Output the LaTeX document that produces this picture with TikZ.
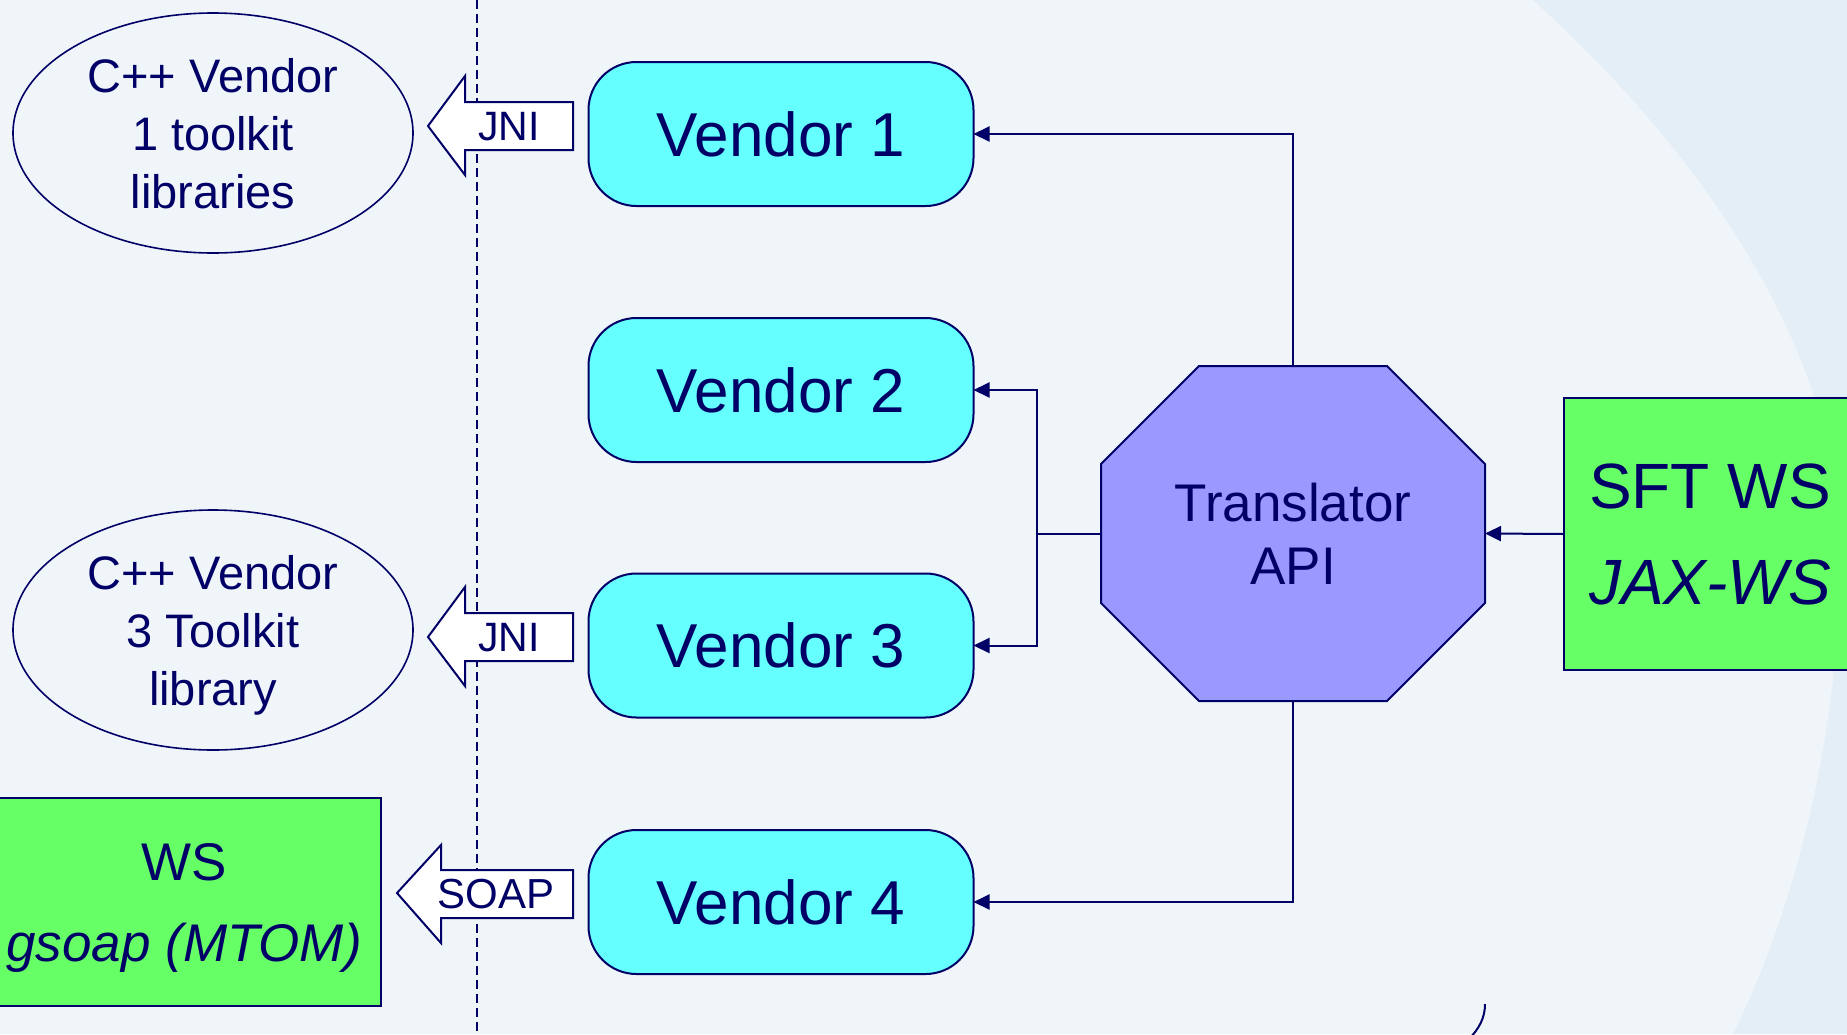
\documentclass[tikz,border=0pt]{standalone}
\usepackage{fontspec}
\setmainfont{Liberation Sans}
\usetikzlibrary{shapes.geometric,arrows.meta}
\definecolor{navy}{HTML}{000066}
\definecolor{cyanbox}{HTML}{66FFFF}
\definecolor{greenbox}{HTML}{66FF66}
\definecolor{octfill}{HTML}{9999FF}
\definecolor{bglight}{HTML}{F0F5FA}
\definecolor{bgdark}{HTML}{E3EEF6}
\begin{document}
\begin{tikzpicture}[x=1pt,y=-1pt,
  vendor/.style={draw=navy,fill=cyanbox,line width=2pt,rounded corners=48pt,minimum width=385pt,minimum height=144pt,inner sep=0pt,outer sep=0pt,font=\fontsize{62}{70}\selectfont,text=navy},
  lib/.style={ellipse,draw=navy,line width=1.6pt,minimum width=400pt,minimum height=240pt,inner sep=0pt,outer sep=0pt,align=center,text=navy,text depth=0pt,font=\fontsize{47}{58}\selectfont},
  wsbox/.style={draw=navy,fill=greenbox,line width=2pt,inner sep=0pt,outer sep=0pt,align=center,text=navy},
  conn/.style={draw=navy,line width=2pt},
  tip/.style={-{Triangle[length=16pt,width=15pt]}},
  blockarrow/.style={draw=navy,fill=white,line width=2pt,line join=miter},
  arrowtext/.style={text=navy,inner sep=0pt,font=\fontsize{41}{41}\selectfont}
]
\useasboundingbox (0,0) rectangle (1847,1034);
\clip (0,0) rectangle (1847,1034);
% background
\fill[bglight] (0,0) rectangle (1847,1034);
\fill[bgdark] (1533,0) .. controls (1650,105) and (1845,320) .. (1840,560) .. controls (1840,720) and (1800,900) .. (1733,1034) -- (1900,1034) -- (1900,0) -- cycle;
% dashed separator
\coordinate (dtop) at (477,0);
\coordinate (dbot) at (477,1034);
\draw[navy,line width=2pt,dash pattern=on 9pt off 5pt] (dtop) -- (dbot);

% library ellipses
\node[lib] (lib1) at (213,133) {C++ Vendor\\1 toolkit\\libraries};
\node[lib] (lib3) at (213,630) {C++ Vendor\\3 Toolkit\\library};
% WS box (bottom left)
\node[wsbox,minimum width=394pt,minimum height=208pt,text depth=0pt,font=\fontsize{53}{81}\selectfont] (ws) at (184,902) {WS\\\textit{gsoap (MTOM)}};

% vendors
\node[vendor] (v1) at (781,134) {Vendor 1};
\node[vendor] (v2) at (781,390) {Vendor 2};
\node[vendor] (v3) at (781,645.5) {Vendor 3};
\node[vendor] (v4) at (781,902) {Vendor 4};

% block arrows
\draw[blockarrow] (428,126) -- (465,76) -- (465,102) -- (573,102) -- (573,150) -- (465,150) -- (465,175) -- cycle;
\node[arrowtext] (jni1) at (509,127) {JNI};
\draw[blockarrow] (428,637) -- (465,587) -- (465,613) -- (573,613) -- (573,661) -- (465,661) -- (465,686) -- cycle;
\node[arrowtext] (jni3) at (509,638) {JNI};
\draw[blockarrow] (397,893) -- (441,845) -- (441,870) -- (573,870) -- (573,918) -- (441,918) -- (441,943) -- cycle;
\node[arrowtext,font=\fontsize{42}{42}\selectfont] (soap) at (496,894) {SOAP};

% translator octagon
\filldraw[fill=octfill,draw=navy,line width=2pt] (1199,366) -- (1387,366) -- (1485,464) -- (1485,603) -- (1387,701) -- (1199,701) -- (1101,603) -- (1101,464) -- cycle;
\node[minimum width=384pt,minimum height=335pt,inner sep=0pt,outer sep=0pt,align=center,text=navy,font=\fontsize{53}{63}\selectfont] (trans) at (1293,533.5) {Translator\\API};

% SFT WS box
\node[wsbox,minimum width=292pt,minimum height=272pt,font=\fontsize{64}{96}\selectfont] (sft) at (1710,534) {SFT WS\\\textit{JAX-WS}};

% connectors
\draw[conn,tip] (trans.north) |- (v1.east);
\coordinate (jn) at (1037,533.5);
\draw[conn] (trans.west) -- (jn);
\draw[conn,tip] (jn) |- (v2.east);
\draw[conn,tip] (jn) |- (v3.east);
\draw[conn,tip] (trans.south) |- (v4.east);
\draw[conn,tip] (sft.west) -- (trans.east);

% small arc fragment at bottom
\coordinate (arcA) at (1485,1004);
\coordinate (arcB) at (1468,1040);
\draw[navy,line width=2pt] (arcA) .. controls (1485,1018) and (1479,1029) .. (arcB);
\end{tikzpicture}
\end{document}
